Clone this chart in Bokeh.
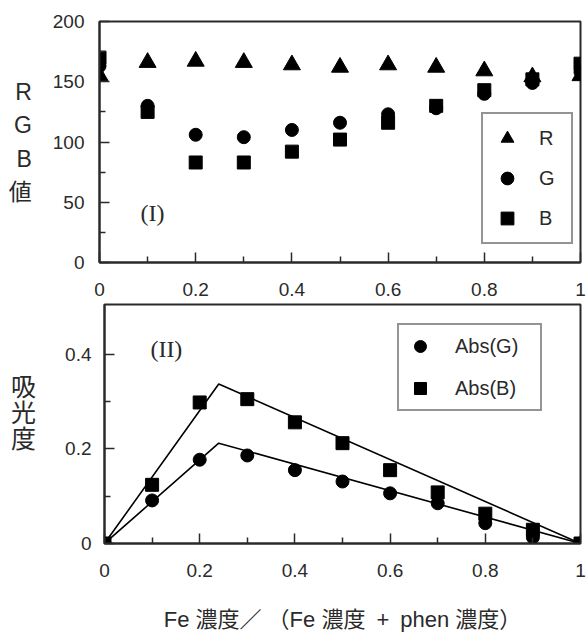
from bokeh.plotting import figure
from bokeh.models import (Range1d, FixedTicker, CustomJSTickFormatter, Legend,
                          LegendItem, Label)
from bokeh.layouts import column, row
from bokeh.embed import file_html
from bokeh.resources import INLINE

# ---- data ----
ratio = [0.0, 0.1, 0.2, 0.3, 0.4, 0.5, 0.6, 0.7, 0.8, 0.9, 1.0]
r_vals = [155, 166, 167, 166, 164, 162, 164, 162, 159, 154, 155]
g_vals = [163, 130, 106, 104, 110, 116, 123, 128, 140, 149, 158]
b_vals = [170, 125, 83, 83, 92, 102, 116, 130, 143, 152, 165]

abs_g = [0.0, 0.091, 0.177, 0.186, 0.155, 0.131, 0.106, 0.085, 0.043, 0.013, 0.0]
abs_b = [0.0, 0.124, 0.298, 0.305, 0.256, 0.212, 0.155, 0.108, 0.063, 0.029, 0.0]

fit_x = [0.0, 0.24, 1.0]
fit_g = [0.0, 0.212, 0.0]
fit_b = [0.0, 0.337, 0.0]

x_major = [0.0, 0.2, 0.4, 0.6, 0.8, 1.0]
x_minor = [0.1, 0.3, 0.5, 0.7, 0.9]
rgb_major = [0, 50, 100, 150, 200]
rgb_minor = [25, 75, 125, 175]
abs_major = [0.0, 0.2, 0.4]
abs_minor = [0.1, 0.3]

INK = "#2a2a2a"
LATIN = "Liberation Sans"
MIXED = "'Liberation Sans', 'Noto Sans CJK JP'"

fmt = CustomJSTickFormatter(code="return tick.toFixed(1).replace(/\\.0$/, '');")


def style(p):
    p.outline_line_color = INK
    p.outline_line_width = 2
    p.xgrid.visible = False
    p.ygrid.visible = False
    p.background_fill_color = "white"
    p.border_fill_color = "white"
    for ax in (p.xaxis[0], p.yaxis[0]):
        ax.axis_line_color = INK
        ax.axis_line_width = 2
        ax.major_tick_in = 10
        ax.major_tick_out = 0
        ax.minor_tick_in = 6
        ax.minor_tick_out = 0
        ax.major_tick_line_color = INK
        ax.minor_tick_line_color = INK
        ax.major_tick_line_width = 1.5
        ax.minor_tick_line_width = 1.5
        ax.major_label_text_font = LATIN
        ax.major_label_text_font_size = "19px"
        ax.major_label_text_color = INK
        ax.formatter = fmt
        ax.axis_label_text_font_style = "normal"
        ax.axis_label_text_color = INK


# ---- top panel (RGB values) ----
p1 = figure(width=587, height=300, output_backend="svg", toolbar_location=None,
            x_range=Range1d(0, 1), y_range=Range1d(0, 200),
            min_border_left=99, min_border_right=7, min_border_top=21,
            min_border_bottom=38)
style(p1)
p1.xaxis[0].ticker = FixedTicker(ticks=x_major, minor_ticks=x_minor)
p1.yaxis[0].ticker = FixedTicker(ticks=rgb_major, minor_ticks=rgb_minor)
p1.xaxis[0].major_label_standoff = 20
p1.yaxis[0].major_label_standoff = 15
p1.yaxis[0].axis_label = "R\nG\nB\n値"
p1.yaxis[0].axis_label_orientation = "horizontal"
p1.yaxis[0].axis_label_text_font = MIXED
p1.yaxis[0].axis_label_text_font_size = "23px"
p1.yaxis[0].axis_label_text_line_height = 1.28
p1.yaxis[0].axis_label_standoff = 18

sq1 = p1.scatter(ratio, b_vals, marker="square", size=13, color="black")
ci1 = p1.scatter(ratio, g_vals, marker="circle", size=13, color="black")
tr1 = p1.scatter(ratio, r_vals, marker="triangle", size=17, color="black")

leg1 = Legend(items=[LegendItem(label="R", renderers=[tr1]),
                     LegendItem(label="G", renderers=[ci1]),
                     LegendItem(label="B", renderers=[sq1])],
              location=(382, 18), margin=0, padding=8, spacing=8,
              glyph_width=32, glyph_height=32, label_height=32,
              label_width=24, label_standoff=16,
              label_text_font=LATIN, label_text_font_size="20px",
              label_text_color=INK,
              border_line_color=INK, border_line_width=2,
              background_fill_color="white", background_fill_alpha=1)
p1.add_layout(leg1)
p1.add_layout(Label(x=0.11, y=41, text="(I)", text_align="center",
                    text_baseline="middle", text_font="Liberation Serif",
                    text_font_size="24px", text_color=INK))

# ---- bottom panel (absorbance) ----
p2 = figure(width=587, height=335, output_backend="svg", toolbar_location=None,
            x_range=Range1d(0, 1), y_range=Range1d(0, 0.505),
            min_border_left=104, min_border_right=7, min_border_top=4,
            min_border_bottom=92)
style(p2)
p2.xaxis[0].ticker = FixedTicker(ticks=x_major, minor_ticks=x_minor)
p2.yaxis[0].ticker = FixedTicker(ticks=abs_major, minor_ticks=abs_minor)
p2.xaxis[0].major_label_standoff = 20
p2.yaxis[0].major_label_standoff = 13
p2.yaxis[0].axis_label = "吸\n光\n度\n\u3000"
p2.yaxis[0].axis_label_orientation = "horizontal"
p2.yaxis[0].axis_label_text_font = "Noto Sans CJK JP"
p2.yaxis[0].axis_label_text_font_size = "25px"
p2.yaxis[0].axis_label_text_line_height = 0.73
p2.yaxis[0].axis_label_standoff = 26
p2.xaxis[0].axis_label = "Fe 濃度／ （Fe 濃度\u2002+\u2002phen 濃度）"
p2.xaxis[0].axis_label_text_font = MIXED
p2.xaxis[0].axis_label_text_font_size = "22px"
p2.xaxis[0].axis_label_standoff = 27

p2.line(fit_x, fit_b, line_color="black", line_width=1.6)
p2.line(fit_x, fit_g, line_color="black", line_width=1.6)
ci2 = p2.scatter(ratio, abs_g, marker="circle", size=13, color="black")
sq2 = p2.scatter(ratio, abs_b, marker="square", size=13, color="black")

leg2 = Legend(items=[LegendItem(label="Abs(G)", renderers=[ci2]),
                     LegendItem(label="Abs(B)", renderers=[sq2])],
              location=(293, 132), margin=0, padding=6, spacing=12,
              glyph_width=30, glyph_height=30, label_height=30,
              label_width=79, label_standoff=20,
              label_text_font=LATIN, label_text_font_size="20px",
              label_text_color=INK,
              border_line_color=INK, border_line_width=2,
              background_fill_color="white", background_fill_alpha=1)
p2.add_layout(leg2)
p2.add_layout(Label(x=0.13, y=0.411, text="(II)", text_align="center",
                    text_baseline="middle", text_font="Liberation Serif",
                    text_font_size="24px", text_color=INK))

layout = column(row(p1), row(p2), spacing=0)
open("out.html", "w").write(file_html(layout, INLINE))
